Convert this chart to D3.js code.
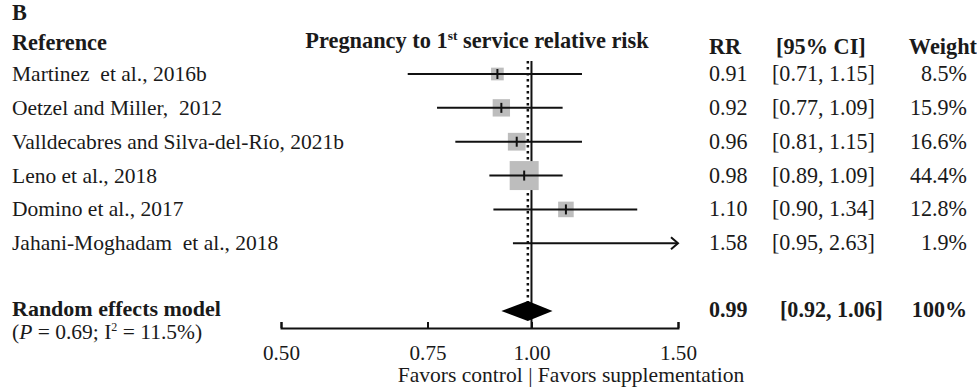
<!DOCTYPE html>
<html>
<head>
<meta charset="utf-8">
<script src="https://cdn.jsdelivr.net/npm/d3@7"></script>
<style>
  body { margin: 0; background: #fff; }
  text { font-family: "Liberation Serif", "DejaVu Serif", serif; fill: #1a1a1a; }
  .label { white-space: pre; }
</style>
</head>
<body>
<svg id="chart" width="977" height="387"></svg>
<script>
const studies = ["Martinez  et al., 2016b", "Oetzel and Miller,  2012", "Valldecabres and Silva-del-Río, 2021b",
                 "Leno et al., 2018", "Domino et al., 2017", "Jahani-Moghadam  et al., 2018"];
const rr = [0.91, 0.92, 0.96, 0.98, 1.10, 1.58];
const lower = [0.71, 0.77, 0.81, 0.89, 0.90, 0.95];
const upper = [1.15, 1.09, 1.15, 1.09, 1.34, 2.63];
const weights = [8.5, 15.9, 16.6, 44.4, 12.8, 1.9];
const pooled = {rr: 0.99, lower: 0.92, upper: 1.06, weight: "100%"};
const axisTicks = [0.5, 0.75, 1.0, 1.5];

const svg = d3.select("#chart");
const fmt = d3.format(".2f");

const data = studies.map((name, i) => ({name, i, rr: rr[i], lo: lower[i], hi: upper[i], w: weights[i]}));

// font size that makes a sample string as wide as it is in the picture
function fitSize(str, weight, target) {
  const t = svg.append("text").attr("font-size", 20).attr("font-weight", weight).text(str);
  const w = t.node().getComputedTextLength();
  t.remove();
  return 20 * target / w;
}
const fsLabel = fitSize("Valldecabres and Silva-del-Río, 2021b", "normal", 332);
const fsNum = fitSize("[0.71, 1.15]", "normal", 103);
const fsHead = fitSize("Reference", "bold", 95);
const fsTitle = fitSize("Pregnancy to 1st service relative risk", "bold", 350);
const fsModel = fitSize("Random effects model", "bold", 209);
const fsTick = fitSize("0.50", "normal", 37);
const fsFoot = fitSize("Favors control | Favors supplementation", "normal", 347);

// log scale for the risk ratio
const x = d3.scaleLog().domain([0.5, 1.5]).range([281, 678]);
const y = d3.scaleLinear().domain([0, 7]).range([74, 311]);
const boxSize = d3.scaleSqrt().domain([0, 44.4]).range([0, 29]);

// headers
svg.append("text").attr("x", 12).attr("y", 20).attr("font-weight", "bold").attr("font-size", fsHead).text("B");
svg.append("text").attr("x", 12).attr("y", 50).attr("font-weight", "bold").attr("font-size", fsHead).text("Reference");
const title = svg.append("text").attr("x", 477).attr("y", 48).attr("text-anchor", "middle")
    .attr("font-weight", "bold").attr("font-size", fsTitle);
title.append("tspan").text("Pregnancy to 1");
title.append("tspan").attr("font-size", fsTitle * 0.6).attr("dy", -8).text("st");
title.append("tspan").attr("dy", 8).text(" service relative risk");
svg.append("text").attr("x", 709).attr("y", 54).attr("font-weight", "bold").attr("font-size", fsHead).text("RR");
svg.append("text").attr("x", 776).attr("y", 54).attr("font-weight", "bold").attr("font-size", fsHead).text("[95% CI]");
svg.append("text").attr("x", 977).attr("y", 54).attr("text-anchor", "end").attr("font-weight", "bold").attr("font-size", fsHead).text("Weight");

// reference lines
svg.append("line").attr("x1", x(1)).attr("x2", x(1)).attr("y1", 61).attr("y2", 328)
    .attr("stroke", "#111").attr("stroke-width", 2);
svg.append("line").attr("x1", x(pooled.rr)).attr("x2", x(pooled.rr)).attr("y1", 61).attr("y2", 302)
    .attr("stroke", "#111").attr("stroke-width", 2.5).attr("stroke-dasharray", "2.5,3.5");

// study rows
const rows = svg.selectAll(".row").data(data).join("g").attr("class", "row");
rows.append("text").attr("class", "label").attr("x", 12).attr("y", d => y(d.i) + 7).attr("font-size", fsLabel).text(d => d.name);
rows.append("text").attr("x", 709).attr("y", d => y(d.i) + 7).attr("font-size", fsNum).text(d => fmt(d.rr));
rows.append("text").attr("x", 772).attr("y", d => y(d.i) + 7).attr("font-size", fsNum)
    .text(d => `[${fmt(d.lo)}, ${fmt(d.hi)}]`);
rows.append("text").attr("x", 967).attr("y", d => y(d.i) + 7).attr("text-anchor", "end").attr("font-size", fsNum)
    .text(d => d.w.toFixed(1) + "%");

// boxes (only inside the plotted range)
rows.filter(d => d.rr <= 1.5).append("rect")
    .attr("x", d => x(d.rr) - boxSize(d.w) / 2)
    .attr("y", d => y(d.i) - boxSize(d.w) / 2)
    .attr("width", d => boxSize(d.w))
    .attr("height", d => boxSize(d.w))
    .attr("fill", "#bdbdbd");

rows.append("line")
    .attr("x1", d => x(Math.max(d.lo, 0.5)))
    .attr("x2", d => x(Math.min(d.hi, 1.5)))
    .attr("y1", d => y(d.i)).attr("y2", d => y(d.i))
    .attr("stroke", "#111").attr("stroke-width", 2);

rows.filter(d => d.rr <= 1.5).append("line")
    .attr("x1", d => x(d.rr)).attr("x2", d => x(d.rr))
    .attr("y1", d => y(d.i) - 5).attr("y2", d => y(d.i) + 5)
    .attr("stroke", "#111").attr("stroke-width", 2);

// arrows for CIs beyond the axis
rows.filter(d => d.hi > 1.5).append("path")
    .attr("d", d => `M${x(1.5) - 7},${y(d.i) - 6} L${x(1.5)},${y(d.i)} L${x(1.5) - 7},${y(d.i) + 6}`)
    .attr("fill", "none").attr("stroke", "#111").attr("stroke-width", 2);

// pooled estimate
const yp = y(7);
svg.append("path")
    .attr("d", `M${x(pooled.lower)},${yp} L${x(pooled.rr)},${yp - 10} L${x(pooled.upper)},${yp} L${x(pooled.rr)},${yp + 10} Z`)
    .attr("fill", "#000");
svg.append("text").attr("x", 12).attr("y", yp + 5).attr("font-weight", "bold").attr("font-size", fsModel).text("Random effects model");
const het = svg.append("text").attr("x", 12).attr("y", yp + 28).attr("font-size", fsLabel);
het.append("tspan").text("(");
het.append("tspan").attr("font-style", "italic").text("P");
het.append("tspan").text(" = 0.69; I");
het.append("tspan").attr("font-size", 12).attr("dy", -8).text("2");
het.append("tspan").attr("dy", 8).text(" = 11.5%)");
svg.append("text").attr("x", 709).attr("y", yp + 6).attr("font-weight", "bold").attr("font-size", fsNum).text(fmt(pooled.rr));
svg.append("text").attr("x", 780).attr("y", yp + 6).attr("font-weight", "bold").attr("font-size", fsNum)
    .text(`[${fmt(pooled.lower)}, ${fmt(pooled.upper)}]`);
svg.append("text").attr("x", 967).attr("y", yp + 6).attr("text-anchor", "end").attr("font-weight", "bold").attr("font-size", fsNum).text(pooled.weight);

// axis
const axis = svg.append("g").attr("transform", "translate(0,328)")
    .call(d3.axisBottom(x).tickValues(axisTicks).tickFormat(fmt).tickSize(-6).tickPadding(17));
axis.select(".domain").attr("stroke", "#111").attr("stroke-width", 2);
axis.selectAll(".tick line").attr("stroke", "#111").attr("stroke-width", 2);
axis.selectAll(".tick text").attr("font-size", fsTick);

svg.append("text").attr("x", 571).attr("y", 382).attr("text-anchor", "middle").attr("font-size", fsFoot)
    .text("Favors control | Favors supplementation");
</script>
</body>
</html>
